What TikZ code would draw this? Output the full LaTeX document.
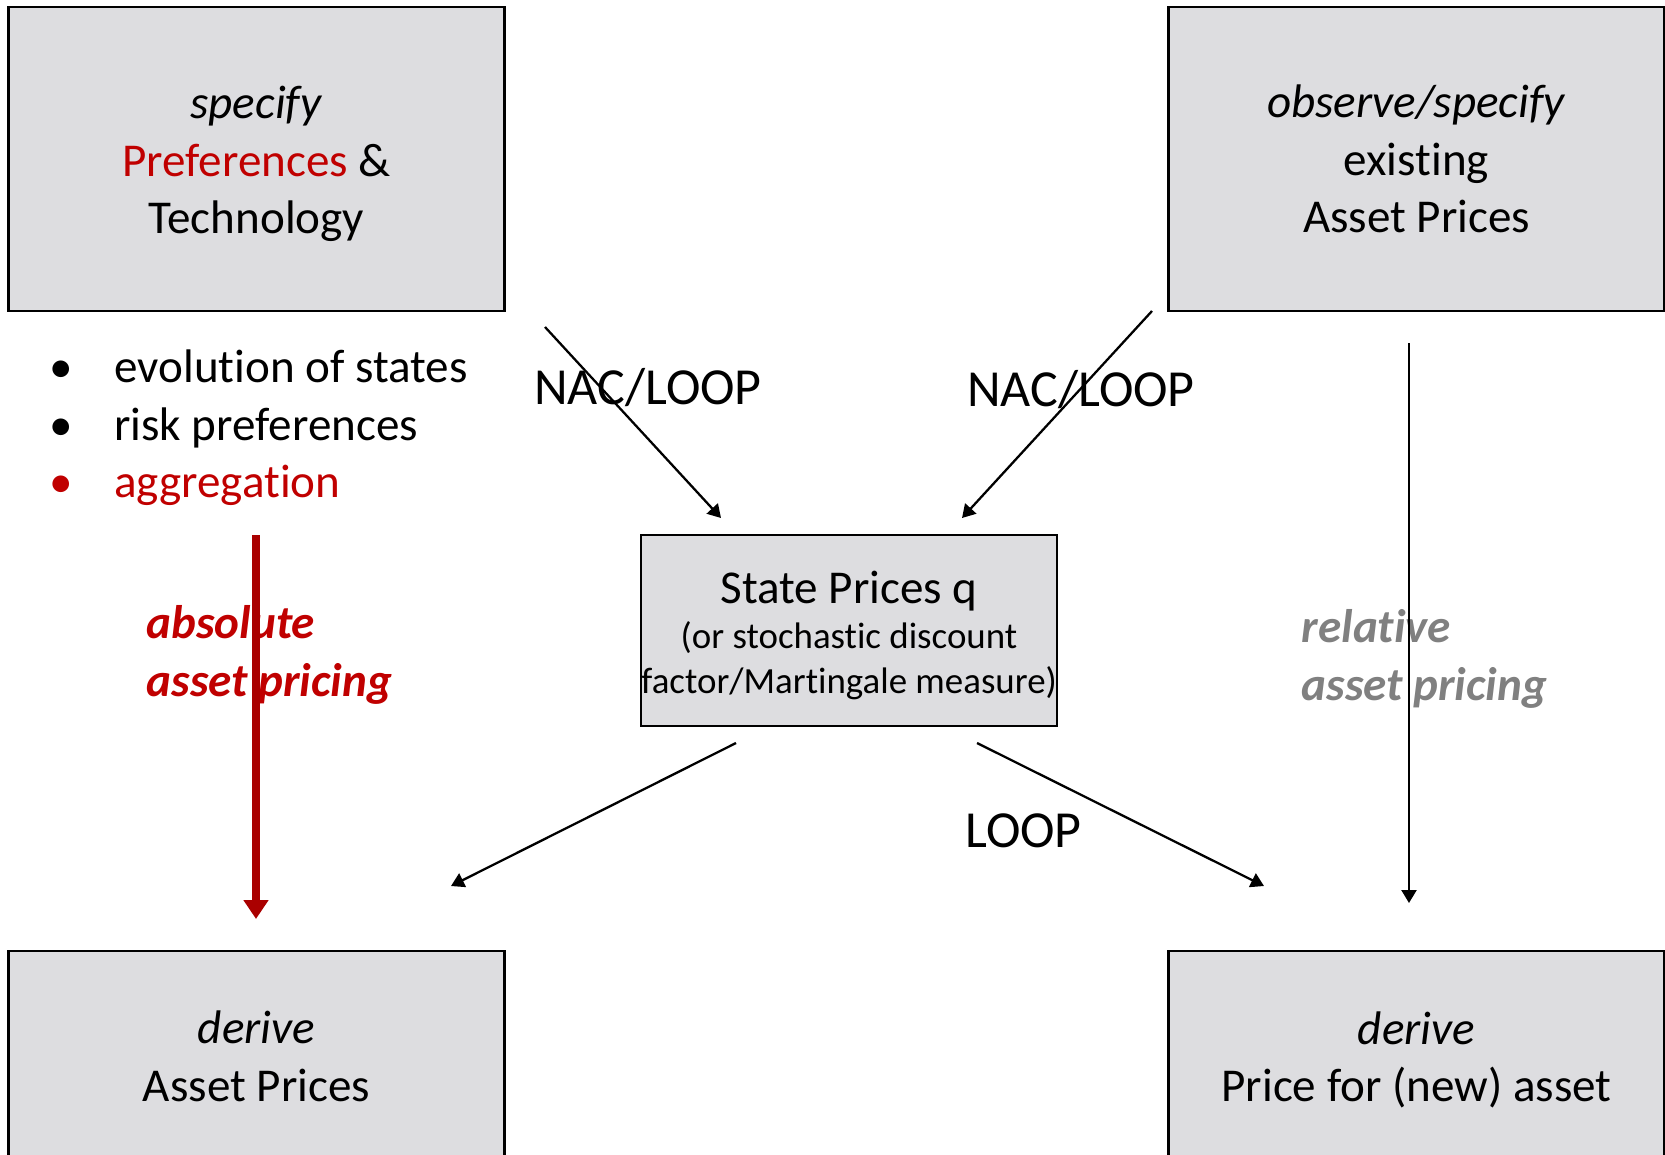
\documentclass[tikz,border=0pt]{standalone}
\usepackage{fontspec}
\setmainfont{Carlito}[Ligatures=NoCommon]
\usetikzlibrary{arrows.meta}
\pgfdeclarelayer{edgelayer}
\pgfdeclarelayer{nodelayer}
\pgfsetlayers{nodelayer,edgelayer,main}
\definecolor{boxgray}{RGB}{221,221,224}
\definecolor{ppred}{RGB}{192,0,0}
\definecolor{arrowred}{RGB}{170,0,0}
\definecolor{relgray}{RGB}{128,128,128}
\tikzset{font=\fontsize{13.4}{16.4}\selectfont}
\tikzstyle{none}=[inner sep=0pt]
\tikzstyle{bigbox}=[draw=black,fill=boxgray,line width=0.6pt,minimum width=4.96cm,align=center,inner sep=0pt]
\tikzstyle{midbox}=[draw=black,fill=boxgray,line width=0.6pt,minimum width=4.16cm,minimum height=1.91cm,align=center,inner sep=0pt,font=\fontsize{10.5}{12.8}\selectfont]
\tikzstyle{nacloop}=[inner sep=0pt,font=\fontsize{14.8}{18}\selectfont]
\tikzstyle{pricing}=[inner sep=0pt,anchor=west,align=left,font=\fontsize{13.4}{16.4}\selectfont\bfseries\itshape]
\tikzstyle{thinarrow}=[line width=0.65pt,-{Triangle[length=0.13cm,width=0.15cm]}]
\tikzstyle{redarrow}=[draw=arrowred,line width=2.1pt,-{Triangle[length=0.19cm,width=0.24cm]}]

\begin{document}
\begin{tikzpicture}
	\useasboundingbox (0,0) rectangle (16.65,-11.54);
	\begin{pgfonlayer}{nodelayer}
		\node [style=bigbox, minimum height=3.04cm] (0) at (2.565, -1.59) {\rule{0pt}{12pt}\textit{specify}\\\textcolor{ppred}{Preferences} \&\\Technology};
		\node [style=bigbox, minimum height=3.04cm] (1) at (14.165, -1.59) {\textit{observe/specify}\\existing\\Asset Prices};
		\node [style=bigbox, minimum height=2.11cm] (2) at (2.565, -10.565) {\textit{derive}\\Asset Prices};
		\node [style=bigbox, minimum height=2.11cm] (3) at (14.165, -10.565) {\rule{0pt}{11.3pt}\textit{derive}\\Price for (new) asset};
		\node [style=midbox] (4) at (8.49, -6.305) {{\fontsize{13.4}{16.4}\selectfont\rule{0pt}{11.8pt}State Prices q}\\(or stochastic discount\\factor/Martingale measure)};
		\node [style=none, anchor=west] (5) at (0.49, -4.285) {\begin{tabular}{@{}p{0.646cm}@{}l@{}}
			\textbullet & evolution of states\\
			\textbullet & risk preferences\\
			\textcolor{ppred}{\textbullet} & \textcolor{ppred}{aggregation}
		\end{tabular}};
		\node [style=nacloop] (6) at (6.48, -3.88) {NAC/LOOP};
		\node [style=nacloop] (7) at (10.81, -3.90) {NAC/LOOP};
		\node [style=nacloop] (8) at (10.235, -8.31) {LOOP};
		\node [style=pricing, text=ppred] (9) at (1.46, -6.547) {absolute\\asset pricing};
		\node [style=pricing, text=relgray] (10) at (13.01, -6.592) {relative\\asset pricing};
		\node [style=none] (11) at (5.45, -3.27) {};
		\node [style=none] (12) at (7.21, -5.18) {};
		\node [style=none] (13) at (11.52, -3.11) {};
		\node [style=none] (14) at (9.62, -5.18) {};
		\node [style=none] (15) at (7.36, -7.43) {};
		\node [style=none] (16) at (4.51, -8.86) {};
		\node [style=none] (17) at (9.77, -7.43) {};
		\node [style=none] (18) at (12.64, -8.86) {};
		\node [style=none] (19) at (14.09, -3.43) {};
		\node [style=none] (20) at (14.09, -9.03) {};
		\node [style=none] (21) at (2.56, -5.35) {};
		\node [style=none] (22) at (2.56, -9.19) {};
	\end{pgfonlayer}
	\begin{pgfonlayer}{edgelayer}
		\draw [style=thinarrow] (11.center) to (12.center);
		\draw [style=thinarrow] (13.center) to (14.center);
		\draw [style=thinarrow] (15.center) to (16.center);
		\draw [style=thinarrow] (17.center) to (18.center);
		\draw [style=thinarrow] (19.center) to (20.center);
		\draw [style=redarrow] (21.center) to (22.center);
	\end{pgfonlayer}
\end{tikzpicture}
\end{document}
